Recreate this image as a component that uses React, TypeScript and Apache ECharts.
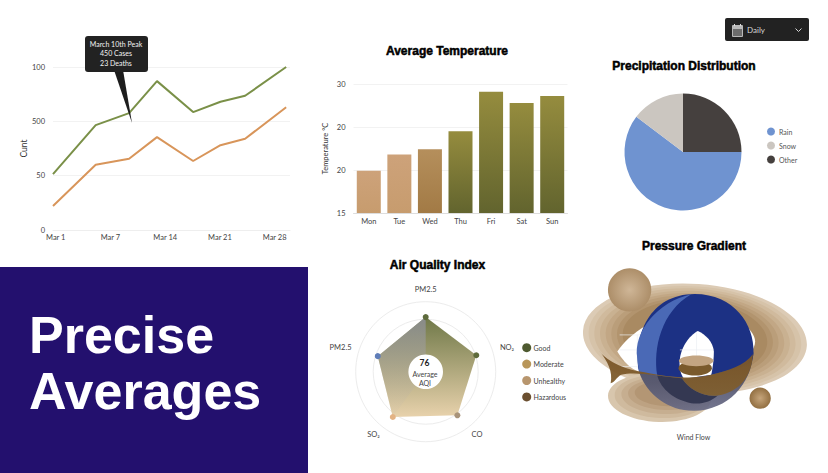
import React, { useEffect, useRef } from 'react';
import * as echarts from 'echarts';

const uiFont = 'Lato, "Open Sans", sans-serif';
const heavyFont = '"Liberation Sans", Arial, sans-serif';

// line chart (x is the slot along the axis, the ticks are evenly spaced)
const lineTickLabels = ['0', '50', '500', '100'];
const dateLabels = ['Mar 1', 'Mar 7', 'Mar 14', 'Mar 21', 'Mar 28'];
const lineSlots = [-0.05, 0.73, 1.34, 1.85, 2.51, 3.01, 3.46, 4.21];
const casesValues = [51.5, 96.5, 107.5, 137, 108.5, 118, 123.5, 150];
const deathsValues = [22, 60, 65.5, 85.5, 63.5, 78, 84, 113];
const peakLines = ['March 10th Peak', '450 Cases', '23 Deaths'];

// bars
const weekDays = ['Mon', 'Tue', 'Wed', 'Thu', 'Fri', 'Sat', 'Sun'];
const temperatures = [19.9, 21.8, 22.4, 24.5, 29.1, 27.8, 28.6];
const tempTickLabels: Record<number, string> = { 15: '15', 20: '20', 25: '20', 30: '30' };
const tanBar = ['#cda27a', '#c79c6e'];
const wedBar = ['#b58f5c', '#a27a45'];
const oliveBar = ['#958c3e', '#62642e'];
const barShades = [tanBar, tanBar, wedBar, oliveBar, oliveBar, oliveBar, oliveBar];

// pie
const precipNames = ['Other', 'Rain', 'Snow'];
const precipValues = [25, 60.3, 14.7];
const precipColors = ['#45403e', '#6f93d0', '#cbc6c0'];

// radar, counter clockwise from the top
const aqiAxes = ['PM2.5', 'PM2.5', 'SO₂', 'CO', 'NO₂'];
const aqiValues = [78, 72, 80, 77, 76];
const aqiDots = ['#5e6b3c', '#5f7db8', '#e3b384', '#a8937a', '#5e6b3c'];
const aqiNames = ['Good', 'Moderate', 'Unhealthy', 'Hazardous'];
const aqiColors = ['#4e5a30', '#b8965a', '#b8966e', '#6b4f30'];

// pressure picture, drawn at 3x and scaled down in its group
const ringColors = ['#dccbb5', '#d6c3a9', '#d0ba9d', '#c9b191', '#c2a785', '#ba9e7a', '#b2946e', '#a98a62'];
const sheetColors = ['#d8c6ad', '#cfba9e', '#c6ae90', '#bda282', '#b39674'];

const torusTop = 'M183,410 C165,300 215,178 350,177 C470,177 530,270 527,352 C525,400 500,390 400,420 C340,435 250,425 183,410 Z';
const torusBottom = 'M183,410 C205,480 275,530 350,528 C450,525 520,450 527,352 C500,390 340,435 183,410 Z';
const torusLight = 'M340,178 C240,200 165,290 178,370 C180,390 182,400 185,412 L238,422 C225,340 250,230 340,178 Z';
const torusInner = 'M238,422 L312,430 C335,465 380,488 420,482 C400,500 370,510 340,505 C290,495 250,465 238,422 Z';
const torusHole = 'M360,288 C335,300 305,340 305,385 C305,410 312,425 320,432 L400,420 C405,400 408,370 408,350 C405,320 385,300 360,288 Z';
const ringHole = 'M118,350 C150,300 250,222 370,228 C470,235 530,280 532,320 C530,370 450,410 380,425 C300,435 200,420 170,405 C150,395 130,370 118,350 Z';
const brownBand = 'M62,345 C90,385 150,405 200,412 C280,428 340,435 400,420 C450,408 500,392 525,358 C522,420 490,470 420,482 C380,488 335,465 312,430 C250,425 170,408 130,420 C115,428 108,445 98,445 C105,410 90,380 62,345 Z';

function registerPressureShapes() {
  const shapes: Record<string, string> = { torusTop, torusBottom, torusLight, torusInner, torusHole, ringHole, brownBand };
  Object.keys(shapes).forEach((k) => {
    echarts.graphic.registerShape(k, echarts.graphic.extendPath(shapes[k], {}));
  });
}

function vGrad(top: string, bottom: string) {
  return new echarts.graphic.LinearGradient(0, 0, 0, 1, [
    { offset: 0, color: top },
    { offset: 1, color: bottom },
  ]);
}

function sphere(cx: number, cy: number, r: number, inner: string, outer: string) {
  return {
    type: 'circle',
    shape: { cx, cy, r },
    style: {
      fill: new echarts.graphic.RadialGradient(0.5, 0.5, 0.55, [
        { offset: 0, color: inner },
        { offset: 1, color: outer },
      ]),
    },
  };
}

function label(text: string, x: number, y: number, size: number, fill: string, align = 'left', weight = 'normal', family = uiFont) {
  return {
    type: 'text',
    z: 12,
    style: { text, x, y, fill, fontSize: size, fontFamily: family, fontWeight: weight, textAlign: align, textVerticalAlign: 'middle' },
  };
}

function title(text: string, left: number, top: number) {
  return {
    text,
    left,
    top,
    padding: 0,
    textAlign: 'center',
    textStyle: {
      fontFamily: heavyFont,
      fontSize: 12,
      fontWeight: 'bold',
      color: '#000',
      textBorderColor: '#000',
      textBorderWidth: 0.5,
    },
  };
}

function pressureGroup() {
  const faint = { stroke: '#eceef3', lineWidth: 2 };
  const gridRows = [300, 345, 395].map((y) => ({
    type: 'line',
    shape: { x1: 125, y1: y, x2: 190, y2: y },
    style: faint,
  }));
  const holeRows = [345].map((y) => ({
    type: 'line',
    shape: { x1: 306, y1: y, x2: 407, y2: y },
    style: faint,
  }));
  return {
    type: 'group',
    x: 578,
    y: 235,
    scaleX: 1 / 3,
    scaleY: 1 / 3,
    children: [
      ...ringColors.map((fill, i) => ({
        type: 'ellipse',
        originX: 350,
        originY: 310,
        rotation: -0.07,
        shape: { cx: 350, cy: 310, rx: 336 - i * 17, ry: 163 - i * 7 },
        style: { fill },
      })),
      { type: 'ringHole', style: { fill: '#ffffff' } },
      ...gridRows,
      { type: 'line', shape: { x1: 178, y1: 300, x2: 178, y2: 400 }, style: faint },
      ...sheetColors.map((fill, i) => ({
        type: 'ellipse',
        originX: 245,
        originY: 487,
        rotation: -0.03,
        shape: { cx: 245 + i * 6, cy: 487 - i * 3, rx: 155 - i * 14, ry: 74 - i * 9 },
        style: { fill },
      })),
      { type: 'torusBottom', style: { fill: vGrad('#3a3e58', '#686a85'), opacity: 0.92 } },
      { type: 'torusInner', style: { fill: '#343852' } },
      { type: 'torusTop', style: { fill: '#1c3184' } },
      { type: 'torusLight', style: { fill: '#4a69b6' } },
      { type: 'torusHole', style: { fill: '#ffffff' } },
      ...holeRows,
      { type: 'line', shape: { x1: 356, y1: 292, x2: 356, y2: 370 }, style: faint },
      { type: 'ellipse', shape: { cx: 352, cy: 400, rx: 50, ry: 22 }, style: { fill: '#7a5a2c' } },
      { type: 'ellipse', shape: { cx: 355, cy: 378, rx: 52, ry: 16 }, style: { fill: '#c3a582' } },
      { type: 'brownBand', style: { fill: vGrad('#7a5426', '#7f5f30'), opacity: 0.95 } },
      sphere(155, 165, 65, '#cfb697', '#a98a64'),
      sphere(547, 490, 32, '#c6a57b', '#8d6a3c'),
    ],
  };
}

function calendarIcon() {
  return {
    type: 'group',
    x: 732,
    y: 24,
    children: [
      { type: 'rect', shape: { x: 0, y: 1, width: 11, height: 12, r: 1 }, style: { fill: '#b9b9b9' } },
      { type: 'rect', shape: { x: 1, y: 5, width: 9, height: 7 }, style: { fill: '#6d6d6d' } },
      { type: 'rect', shape: { x: 2, y: 0, width: 1, height: 2 }, style: { fill: '#dddddd' } },
      { type: 'rect', shape: { x: 8, y: 0, width: 1, height: 2 }, style: { fill: '#dddddd' } },
    ],
  };
}

export default function App() {
  const chartRef = useRef<HTMLDivElement>(null);

  useEffect(() => {
    if (!chartRef.current) return;
    registerPressureShapes();
    const chart = echarts.init(chartRef.current, null, { renderer: 'svg' });

    const axisText = { color: '#444', fontSize: 7.5, fontFamily: uiFont };
    const faintLine = { lineStyle: { color: '#f2f2f2', width: 1 } };

    const option: any = {
      animation: false,
      backgroundColor: '#fff',
      title: [
        title('Average Temperature', 447, 45),
        title('Precipitation Distribution', 684, 60),
        title('Air Quality Index', 437.5, 259),
        title('Pressure Gradient', 694, 240),
      ],
      grid: [
        { left: 53, top: 67, width: 237, height: 163 },
        { left: 353.5, top: 84, width: 214, height: 129 },
      ],
      xAxis: [
        {
          type: 'value',
          gridIndex: 0,
          min: -0.05,
          max: 4.28,
          splitLine: { show: false },
          axisTick: { show: false },
          axisLine: { show: true, lineStyle: { color: '#eeeeee' } },
          axisLabel: {
            ...axisText,
            margin: 3,
            customValues: [0, 1, 2, 3, 4],
            formatter: (v: number) => dateLabels[v],
          },
        },
        {
          type: 'category',
          gridIndex: 1,
          data: weekDays,
          axisTick: { show: false },
          axisLine: { lineStyle: { color: '#dddddd' } },
          axisLabel: { ...axisText, margin: 4 },
        },
      ],
      yAxis: [
        {
          type: 'value',
          gridIndex: 0,
          min: 0,
          max: 150,
          interval: 50,
          name: 'Cunt',
          nameLocation: 'middle',
          nameGap: 24,
          nameTextStyle: { color: '#333', fontSize: 8.5, fontFamily: uiFont },
          axisLine: { show: false },
          axisTick: { show: false },
          splitLine: faintLine,
          axisLabel: { ...axisText, formatter: (v: number) => lineTickLabels[v / 50] },
        },
        {
          type: 'value',
          gridIndex: 1,
          min: 15,
          max: 30,
          interval: 5,
          name: 'Temperature °C',
          nameLocation: 'middle',
          nameGap: 24,
          nameTextStyle: { color: '#333', fontSize: 7.5, fontFamily: uiFont },
          axisLine: { show: false },
          axisTick: { show: false },
          splitLine: faintLine,
          axisLabel: { ...axisText, formatter: (v: number) => tempTickLabels[v] },
        },
      ],
      legend: {
        orient: 'vertical',
        left: 762,
        top: 122.5,
        itemWidth: 8,
        itemHeight: 8,
        itemGap: 6,
        icon: 'circle',
        data: ['Rain', 'Snow', 'Other'],
        textStyle: { color: '#555', fontSize: 7, fontFamily: uiFont, padding: [0, 0, 0, -1] },
      },
      radar: {
        center: [425.7, 371.7],
        radius: 70,
        startAngle: 90,
        splitNumber: 4,
        shape: 'circle',
        nameGap: 8,
        axisName: { color: '#444', fontSize: 7.5, fontFamily: uiFont },
        axisLine: { show: false },
        axisTick: { show: false },
        splitArea: { show: false },
        splitLine: { lineStyle: { color: '#ececec', width: 1 } },
        indicator: aqiAxes.map((name) => ({ name, min: 0, max: 100 })),
      },
      series: [
        {
          type: 'line',
          name: 'Cases',
          xAxisIndex: 0,
          yAxisIndex: 0,
          symbol: 'none',
          data: lineSlots.map((x, i) => [x, casesValues[i]]),
          lineStyle: { color: '#7a9048', width: 2 },
        },
        {
          type: 'line',
          name: 'Deaths',
          xAxisIndex: 0,
          yAxisIndex: 0,
          symbol: 'none',
          data: lineSlots.map((x, i) => [x, deathsValues[i]]),
          lineStyle: { color: '#d8955a', width: 2 },
        },
        {
          type: 'bar',
          xAxisIndex: 1,
          yAxisIndex: 1,
          barWidth: 24,
          data: temperatures.map((value, i) => ({
            value,
            itemStyle: { color: vGrad(barShades[i][0], barShades[i][1]) },
          })),
        },
        {
          type: 'pie',
          center: [683, 152],
          radius: 58.5,
          startAngle: 90,
          label: { show: false },
          labelLine: { show: false },
          data: precipNames.map((name, i) => ({
            name,
            value: precipValues[i],
            itemStyle: { color: precipColors[i] },
          })),
        },
        {
          type: 'radar',
          symbol: 'none',
          lineStyle: { width: 0 },
          data: [
            { value: aqiValues, areaStyle: { opacity: 1, color: vGrad('#6f7848', '#e8d2ac') } },
            // grey shade on the left half, the last two axes stay at the centre
            {
              value: [aqiValues[0], aqiValues[1], aqiValues[2], 0, 0],
              areaStyle: { opacity: 1, color: vGrad('rgba(140,142,150,0.85)', 'rgba(200,190,170,0.05)') },
            },
          ],
        },
        {
          type: 'radar',
          symbol: 'circle',
          symbolSize: 6,
          lineStyle: { width: 0 },
          areaStyle: { opacity: 0 },
          // one point per axis so each dot has its own colour
          data: aqiValues.map((v, i) => ({
            value: aqiValues.map((_, j) => (j === i ? v : 0)),
            itemStyle: { color: aqiDots[i] },
          })),
        },
      ],
      graphic: [
        // tooltip
        {
          type: 'polygon',
          z: 11,
          shape: { points: [[114, 70], [132, 123], [123, 70]] },
          style: { fill: '#1d1d1d' },
        },
        {
          type: 'rect',
          z: 11,
          shape: { x: 85, y: 36, width: 63, height: 36, r: 3 },
          style: { fill: '#222222' },
        },
        ...peakLines.map((t, i) => label(t, 116, 43.5 + i * 9.7, 7, '#f2f2f2', 'center')),
        // banner
        { type: 'rect', shape: { x: 0, y: 267, width: 308, height: 206 }, style: { fill: '#23106e' } },
        label('Precise', 29, 335, 52, '#ffffff', 'left', 'bold', heavyFont),
        label('Averages', 29, 391, 52, '#ffffff', 'left', 'bold', heavyFont),
        // period dropdown
        { type: 'rect', shape: { x: 725, y: 18, width: 84, height: 23, r: 2 }, style: { fill: '#222222' } },
        calendarIcon(),
        label('Daily', 747, 30, 8, '#d8d8d8'),
        {
          type: 'polyline',
          shape: { points: [[795.5, 28.5], [798.5, 31.5], [801.5, 28.5]] },
          style: { stroke: '#d8d8d8', lineWidth: 1, fill: 'none' },
        },
        // radar middle
        { type: 'circle', z: 11, shape: { cx: 425.7, cy: 371.7, r: 17.3 }, style: { fill: '#ffffff' } },
        label('76', 424.5, 363, 8.5, '#222', 'center', 'bold'),
        label('Average', 425, 374, 7, '#444', 'center'),
        label('AQI', 425, 383, 7, '#444', 'center'),
        // radar legend
        ...aqiNames.map((name, i) => ({
          type: 'circle',
          shape: { cx: 526.7, cy: 347.7 + i * 16.4, r: 4.5 },
          style: { fill: aqiColors[i] },
        })),
        ...aqiNames.map((name, i) => label(name, 533.5, 347.7 + i * 16.4, 7, '#444')),
        // pressure picture
        pressureGroup(),
        label('Wind Flow', 693.5, 436.5, 7, '#444', 'center'),
      ],
    };

    chart.setOption(option);
    return () => chart.dispose();
  }, []);

  return <div ref={chartRef} style={{ position: 'absolute', left: 0, top: 0, width: 828, height: 473 }} />;
}
